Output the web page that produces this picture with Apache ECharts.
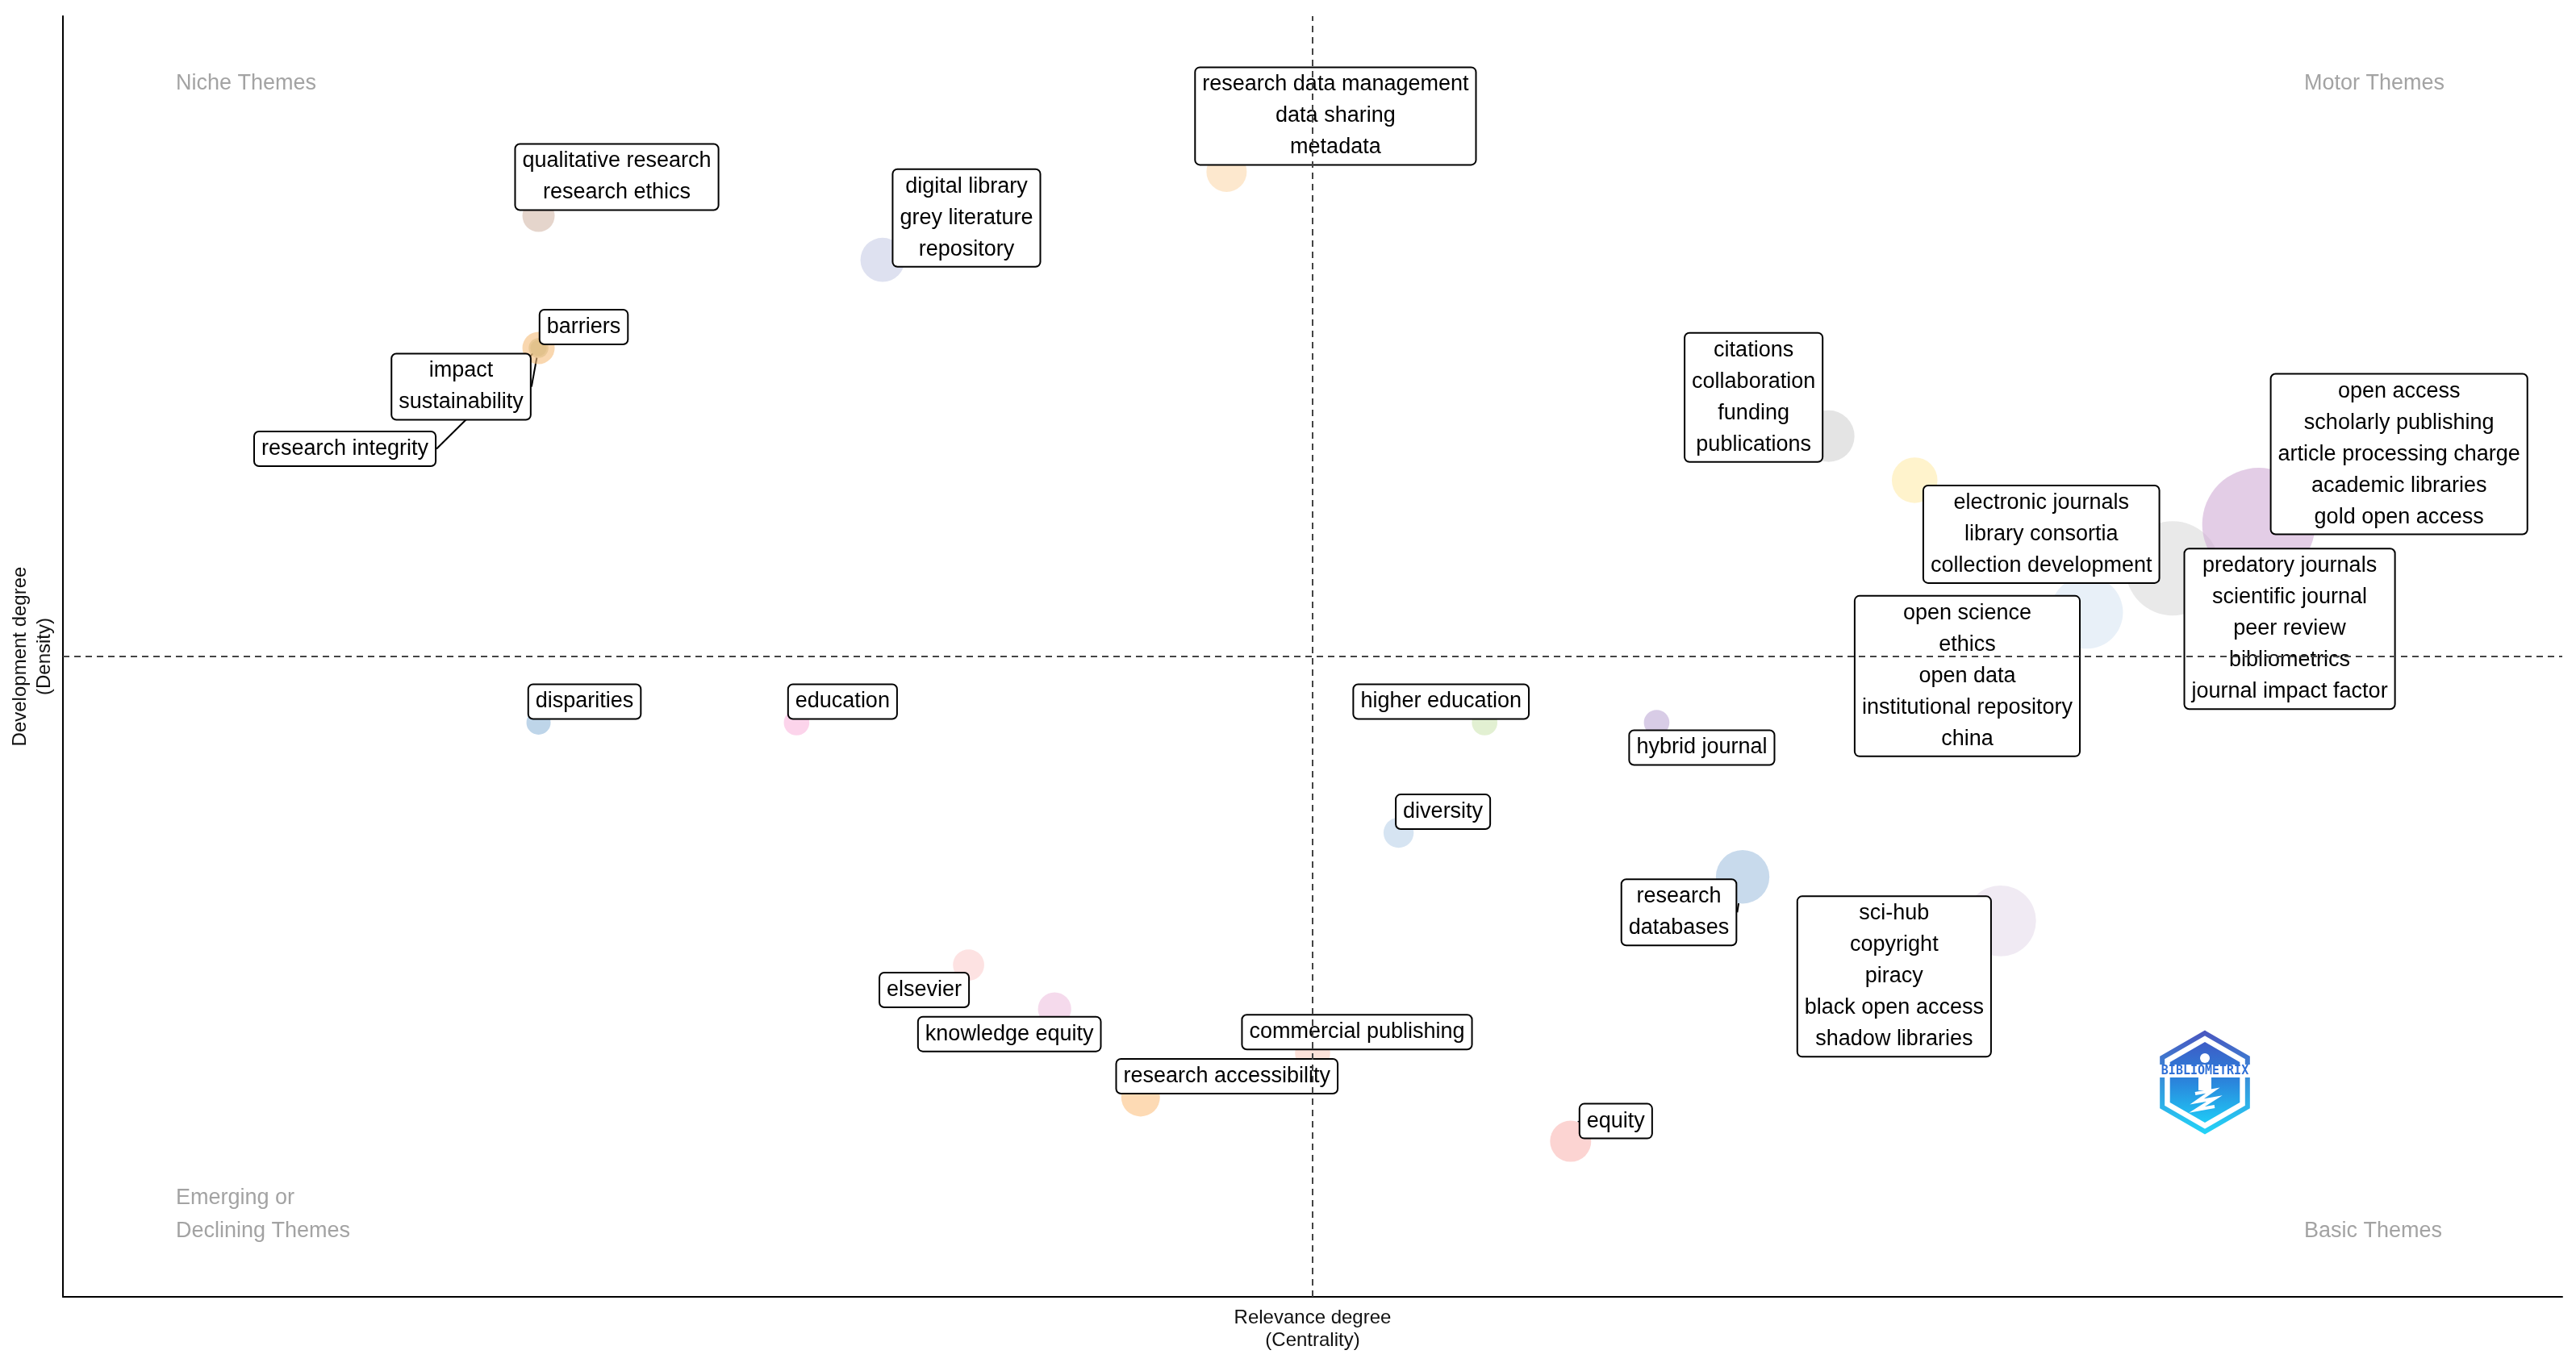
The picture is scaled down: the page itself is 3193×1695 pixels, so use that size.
<!DOCTYPE html>
<html>
<head>
<meta charset="utf-8">
<script src="https://cdn.jsdelivr.net/npm/echarts@6/dist/echarts.min.js"></script>
<style>html,body{margin:0;padding:0;background:#fff;}#c{width:3193px;height:1695px;}</style>
</head>
<body>
<div id="c"></div>
<script>
// ---------- data ----------
const themes = [
  "research data management\ndata sharing\nmetadata",
  "qualitative research\nresearch ethics",
  "digital library\ngrey literature\nrepository",
  "barriers",
  "impact\nsustainability",
  "research integrity",
  "citations\ncollaboration\nfunding\npublications",
  "electronic journals\nlibrary consortia\ncollection development",
  "predatory journals\nscientific journal\npeer review\nbibliometrics\njournal impact factor",
  "open access\nscholarly publishing\narticle processing charge\nacademic libraries\ngold open access",
  "open science\nethics\nopen data\ninstitutional repository\nchina",
  "disparities",
  "education",
  "higher education",
  "hybrid journal",
  "diversity",
  "research\ndatabases",
  "sci-hub\ncopyright\npiracy\nblack open access\nshadow libraries",
  "elsevier",
  "knowledge equity",
  "commercial publishing",
  "research accessibility",
  "equity"
];
// rank centrality (relevance degree)
const centrality = [11, 3, 7, 3, 3, 3, 18, 19, 22, 23, 21, 3, 6, 14, 16, 13, 17, 20, 8, 9, 12, 10, 15];
// rank density (development degree)
const density = [23, 22, 21, 19, 19, 19, 17, 16, 14, 15, 13, 10.5, 10.5, 10.5, 10.5, 8, 7, 6, 5, 4, 3, 2, 1];
// cluster frequency (bubble size)
const frequency = [25, 16, 30, 16, 6, 4, 41, 32, 137, 196, 81, 9, 10, 10, 10, 14, 44, 77, 15, 17, 19, 23, 26];

const quadrantLabels = ["Niche Themes", "Motor Themes", "Emerging or\nDeclining Themes", "Basic Themes"];

// ---------- styles / layout (not data) ----------
const bubbleColors = [
  [252,217,173],[212,185,170],[200,205,230],[245,188,122],[221,190,133],[221,190,133],
  [210,210,210],[255,235,170],[218,218,218],[208,172,213],[217,230,243],
  [147,185,218],[250,183,222],[207,230,180],[190,170,213],[187,210,233],
  [163,193,223],[230,220,235],[252,207,207],[238,193,223],[252,207,193],
  [252,193,130],[250,183,180]
];
const labelOffsets = [
  [135,-69],[97,-48],[104,-52],[56,-26],[-96,48],[-240,125],
  [-93,-48],[157,67],[145,75],[174,-87],[-148,79],
  [57,-26],[57,-26],[-54,-26],[56,31],[55,-26],
  [-79,44],[-132,69],[-55,31],[-56,31],[55,-26],
  [107,-26],[56,-25]
];
const withSegment = {4:true, 5:true, 16:true, 22:true};

const mean = a => a.reduce((s, v) => s + v, 0) / a.length;
const meanX = mean(centrality);
const meanY = mean(density);

const points = themes.map((t, i) => {
  const c = bubbleColors[i];
  const item = {
    name: t,
    value: [centrality[i], density[i], frequency[i]],
    itemStyle: { color: 'rgba(' + c.join(',') + ',0.6)' }
  };
  if (withSegment[i]) item.labelLine = { show: true, lineStyle: { color: '#000', width: 2, opacity: 1 } };
  return item;
});

const FONT = '"Liberation Sans", Arial, sans-serif';

function hexPts(r) {
  const p = [];
  for (let k = 0; k < 6; k++) {
    const a = -Math.PI / 2 + k * Math.PI / 3;
    p.push([r * Math.cos(a), r * Math.sin(a)]);
  }
  return p;
}

const chart = echarts.init(document.getElementById('c'));
chart.setOption({
  backgroundColor: '#ffffff',
  animation: false,
  grid: { left: 78, right: 17, top: 20, bottom: 87, containLabel: false },
  xAxis: {
    type: 'value', min: -2.53, max: 26.53,
    name: 'Relevance degree\n(Centrality)', nameLocation: 'middle', nameGap: 12,
    nameTextStyle: { fontFamily: FONT, fontSize: 24, lineHeight: 28, color: '#111', verticalAlign: 'top' },
    axisLine: { show: true, onZero: false, lineStyle: { color: '#000', width: 2 } },
    axisTick: { show: false }, axisLabel: { show: false }, splitLine: { show: false }
  },
  yAxis: {
    type: 'value', min: -2.53, max: 26.53,
    name: 'Development degree\n(Density)', nameLocation: 'middle', nameGap: 8,
    nameTextStyle: { fontFamily: FONT, fontSize: 24, lineHeight: 30, color: '#111', verticalAlign: 'bottom' },
    axisLine: { show: true, onZero: false, lineStyle: { color: '#000', width: 2 } },
    axisTick: { show: false }, axisLabel: { show: false }, splitLine: { show: false }
  },
  series: [
    {
      type: 'scatter',
      z: 2,
      data: points,
      symbol: 'circle',
      symbolSize: v => 10 * Math.sqrt(v[2]),
      itemStyle: { opacity: 1 },
      label: {
        show: true, position: 'inside', formatter: '{b}',
        fontFamily: FONT, fontSize: 27, lineHeight: 39, color: '#000',
        backgroundColor: '#fff', borderColor: '#000', borderWidth: 2, borderRadius: 5,
        padding: [1, 8], align: 'center', verticalAlign: 'middle'
      },
      labelLine: { show: false },
      labelLayout: p => ({ dx: labelOffsets[p.dataIndex][0], dy: labelOffsets[p.dataIndex][1] }),
      emphasis: { disabled: true },
      silent: true
    },
    {
      type: 'scatter',
      z: 10,
      data: [],
      silent: true,
      markLine: {
        silent: true,
        symbol: ['none', 'none'],
        label: { show: false },
        lineStyle: { type: [8, 6], color: '#444', width: 2 },
        data: [{ xAxis: meanX }, { yAxis: meanY }]
      }
    }
  ],
  graphic: [
    { type: 'text', x: 218, y: 104, style: { text: quadrantLabels[0], fill: '#a3a3a3', font: '27px ' + FONT, verticalAlign: 'middle' } },
    { type: 'text', x: 2856, y: 104, style: { text: quadrantLabels[1], fill: '#a3a3a3', font: '27px ' + FONT, verticalAlign: 'middle' } },
    { type: 'text', x: 218, y: 1506, style: { text: quadrantLabels[2], fill: '#a3a3a3', font: '27px ' + FONT, lineHeight: 41, verticalAlign: 'middle' } },
    { type: 'text', x: 2856, y: 1527, style: { text: quadrantLabels[3], fill: '#a3a3a3', font: '27px ' + FONT, verticalAlign: 'middle' } },
    {
      type: 'group', x: 2733, y: 1342, z: 20,
      children: [
        { type: 'polygon', shape: { points: hexPts(61) },
          style: { fill: 'none', lineWidth: 6,
            stroke: new echarts.graphic.LinearGradient(0, 0, 0, 1, [{ offset: 0, color: '#4a55bf' }, { offset: 1, color: '#22d4f8' }]) } },
        { type: 'polygon', shape: { points: hexPts(50) },
          style: { fill: new echarts.graphic.LinearGradient(0, 0, 0, 1, [{ offset: 0, color: '#3d5cc6' }, { offset: 0.5, color: '#2a86dc' }, { offset: 1, color: '#1fcaf6' }]) } },
        { type: 'rect', shape: { x: -58, y: -22, width: 116, height: 16 }, style: { fill: '#ffffff' } },
        { type: 'text', x: 0, y: -14, style: { text: 'BIBLIOMETRIX', fill: '#2f6fd6', font: 'bold 15px "DejaVu Sans Mono", monospace', align: 'center', verticalAlign: 'middle' } },
        { type: 'circle', shape: { cx: 0, cy: -30, r: 6 }, style: { fill: '#ffffff' } },
        { type: 'rect', shape: { x: -8, y: -6, width: 16, height: 16 }, style: { fill: '#ffffff' } },
        { type: 'polyline', shape: { points: [[-12, 14], [10, 10], [-10, 24], [12, 20], [-10, 34], [12, 30]] }, style: { stroke: '#ffffff', lineWidth: 4, fill: 'none' } }
      ]
    }
  ]
});
</script>
</body>
</html>
